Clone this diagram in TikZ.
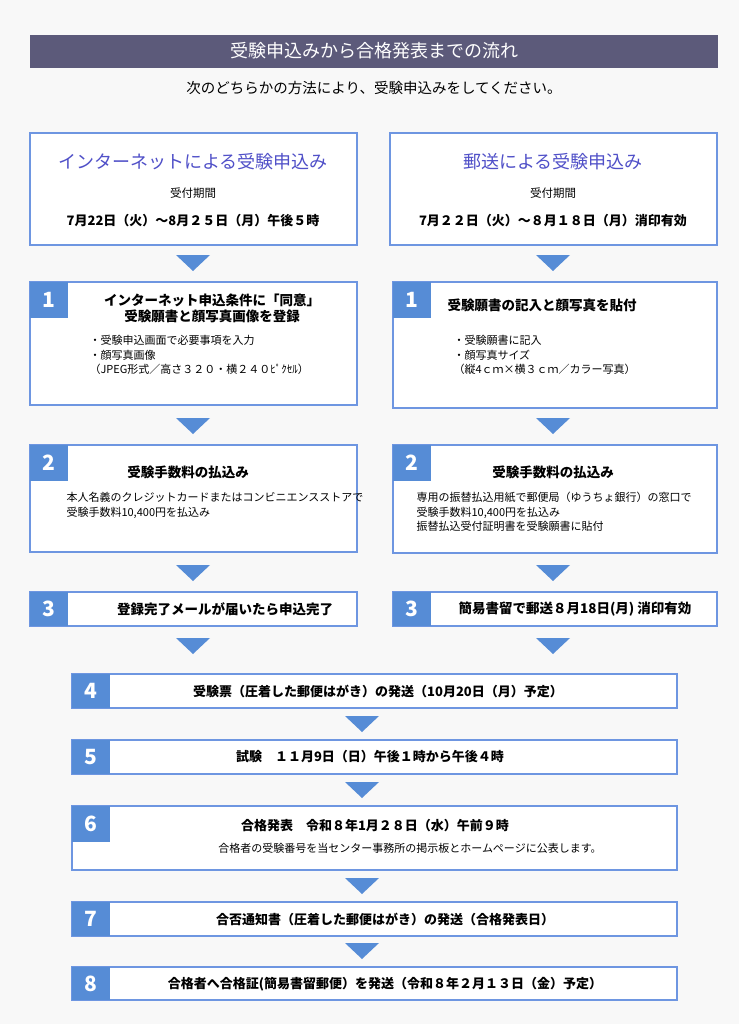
\documentclass[tikz,border=0pt]{standalone}
\usepackage{fontspec}
\setmainfont{Noto Sans CJK JP}
\usepackage{tikz}
\usetikzlibrary{positioning, calc}
\definecolor{pagebg}{RGB}{248,248,248}
\definecolor{titlebar}{RGB}{92,90,122}
\definecolor{boxline}{RGB}{110,150,225}
\definecolor{numblue}{RGB}{86,140,214}
\definecolor{headblue}{RGB}{80,80,200}
\newcommand{\downtri}[2]{\fill[numblue] (#1-17,#2) -- (#1+17,#2) -- (#1,#2+16) -- cycle;}
\newcommand{\numsq}[4]{\node[numsq, minimum height=#3pt] (#4) at (#1+19,#2+#3/2) {#4};}

\begin{document}
\begin{tikzpicture}[x=1pt, y=-1pt,
  stepbox/.style={draw=boxline, line width=1.2pt, fill=white},
  numsq/.style={fill=numblue, text=white, font=\bfseries\fontsize{21}{21}\selectfont, minimum width=38pt, inner sep=0pt},
  head/.style={font=\bfseries\fontsize{13.5}{16}\selectfont, align=left},
  body/.style={font=\fontsize{11}{14.5}\selectfont, align=left, anchor=north west}]

\fill[pagebg] (0,0) rectangle (739,1024);

% title
\fill[titlebar] (30,35) rectangle (718,68);
\node[text=white, font=\fontsize{18}{18}\selectfont] (title) at (374,51) {受験申込みから合格発表までの流れ};
\node[font=\fontsize{14.5}{14.5}\selectfont] (sub) at (374,88) {次のどちらかの方法により、受験申込みをしてください。};

% method boxes
\draw[stepbox, line width=1.6pt] (30,133) rectangle (357,245);
\draw[stepbox, line width=1.6pt] (390,133) rectangle (717,245);
\node[text=headblue, font=\fontsize{18}{18}\selectfont] (net) at (193,162) {インターネットによる受験申込み};
\node[font=\fontsize{11.5}{11.5}\selectfont] (netp) at (193,193) {受付期間};
\node[font=\bfseries\fontsize{13}{13}\selectfont] (netd) at (193,221) {7月22日（火）～8月２５日（月）午後５時};
\node[text=headblue, font=\fontsize{18}{18}\selectfont] (post) at (553,162) {郵送による受験申込み};
\node[font=\fontsize{11.5}{11.5}\selectfont] (postp) at (553,193) {受付期間};
\node[font=\bfseries\fontsize{13}{13}\selectfont] (postd) at (553,221) {7月２２日（火）～８月１８日（月）消印有効};

\downtri{193}{255}
\downtri{553}{255}

% step 1
\draw[stepbox] (30,282) rectangle (357,405);
\numsq{30}{282}{36}{1}
\node[head, align=center] (l1h) at (212,308) {インターネット申込条件に「同意」\\受験願書と顔写真画像を登録};
\node[body] (l1b) at (86,332) {・受験申込画面で必要事項を入力\\・顔写真画像\\（JPEG形式／高さ３２０・横２４０ﾋﾟｸｾﾙ）};
\draw[stepbox] (393,282) rectangle (717,408);
\numsq{393}{282}{36}{1}
\node[head] (r1h) at (542,305) {受験願書の記入と顔写真を貼付};
\node[body] (r1b) at (450,332) {・受験願書に記入\\・顔写真サイズ\\（縦4ｃｍ×横３ｃｍ／カラー写真）};

\downtri{193}{418}
\downtri{553}{418}

% step 2
\draw[stepbox] (30,445) rectangle (357,552);
\numsq{30}{445}{36}{2}
\node[head] (l2h) at (188,472) {受験手数料の払込み};
\node[body] (l2b) at (63,489) {本人名義のクレジットカードまたはコンビニエンスストアで\\受験手数料10,400円を払込み};
\draw[stepbox] (393,445) rectangle (717,553);
\numsq{393}{445}{36}{2}
\node[head] (r2h) at (553,472) {受験手数料の払込み};
\node[body] (r2b) at (413,489) {専用の振替払込用紙で郵便局（ゆうちょ銀行）の窓口で\\受験手数料10,400円を払込み\\振替払込受付証明書を受験願書に貼付};

\downtri{193}{565}
\downtri{553}{565}

% step 3
\draw[stepbox] (30,592) rectangle (357,626);
\numsq{30}{592}{34}{3}
\node[head] (l3h) at (225,609) {登録完了メールが届いたら申込完了};
\draw[stepbox] (393,592) rectangle (717,626);
\numsq{393}{592}{34}{3}
\node[head] (r3h) at (575,609) {簡易書留で郵送８月18日(月) 消印有効};

\downtri{193}{638}
\downtri{553}{638}

% common steps
\draw[stepbox] (72,674) rectangle (677,708);
\numsq{72}{674}{34}{4}
\node[head, font=\bfseries\fontsize{13}{15}\selectfont] (s4) at (378,691) {受験票（圧着した郵便はがき）の発送（10月20日（月）予定）};
\downtri{362}{716}
\draw[stepbox] (72,740) rectangle (677,774);
\numsq{72}{740}{34}{5}
\node[head, font=\bfseries\fontsize{13}{15}\selectfont] (s5) at (370,757) {試験　１１月9日（日）午後１時から午後４時};
\downtri{362}{782}
\draw[stepbox] (72,806) rectangle (677,870);
\numsq{72}{806}{36}{6}
\node[head, font=\bfseries\fontsize{13}{15}\selectfont] (s6) at (375,826) {合格発表　令和８年1月２８日（水）午前９時};
\node[font=\fontsize{11}{12}\selectfont] (s6b) at (410,848) {合格者の受験番号を当センター事務所の掲示板とホームページに公表します。};
\downtri{362}{878}
\draw[stepbox] (72,902) rectangle (677,936);
\numsq{72}{902}{34}{7}
\node[head, font=\bfseries\fontsize{13}{15}\selectfont] (s7) at (385,919) {合否通知書（圧着した郵便はがき）の発送（合格発表日）};
\downtri{362}{943}
\draw[stepbox] (72,967) rectangle (677,1000);
\numsq{72}{967}{33}{8}
\node[head, font=\bfseries\fontsize{13}{15}\selectfont] (s8) at (385,984) {合格者へ合格証(簡易書留郵便）を発送（令和８年２月１３日（金）予定）};
\end{tikzpicture}
\end{document}
